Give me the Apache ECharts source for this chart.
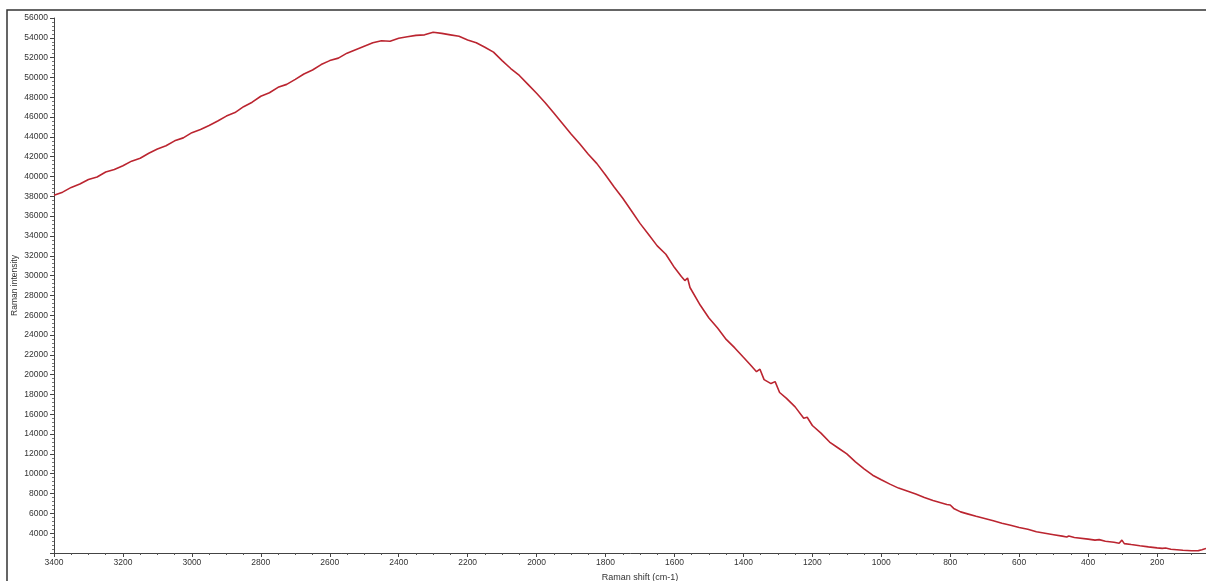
<!DOCTYPE html>
<html>
<head>
<meta charset="utf-8">
<script src="https://cdn.jsdelivr.net/npm/echarts@6/dist/echarts.min.js"></script>
<style>
  html, body { margin: 0; padding: 0; background: #fff; }
  #chart { width: 1206px; height: 581px; }
</style>
</head>
<body>
<div id="chart"></div>
<script>
// Raman spectrum (shift in cm-1, intensity in counts)
var shifts = [3400, 3375, 3350, 3325, 3300, 3275, 3250, 3225, 3200, 3175, 3150, 3125,
  3100, 3075, 3050, 3025, 3000, 2975, 2950, 2925, 2900, 2875, 2850, 2825, 2800, 2775,
  2750, 2725, 2700, 2675, 2650, 2625, 2600, 2575, 2550, 2525, 2500, 2475, 2450, 2425,
  2400, 2375, 2350, 2325, 2300, 2275, 2250, 2225, 2200, 2175, 2150, 2125, 2100, 2075,
  2050, 2025, 2000, 1975, 1950, 1925, 1900, 1875, 1850, 1825, 1800, 1775, 1750, 1725,
  1700, 1675, 1650, 1625, 1600, 1580, 1570, 1562, 1555, 1525, 1500, 1475, 1450, 1425,
  1400, 1380, 1362, 1352, 1340, 1320, 1308, 1295, 1275, 1250, 1225, 1215, 1200, 1175,
  1150, 1125, 1100, 1075, 1050, 1025, 1000, 975, 950, 925, 900, 875, 850, 825, 810,
  800, 790, 770, 750, 725, 700, 675, 650, 625, 600, 575, 550, 525, 500, 475, 462, 456,
  440, 400, 380, 368, 350, 325, 310, 302, 295, 275, 250, 225, 200, 185, 175, 160, 125,
  100, 80, 70, 58];
var intensity = [38100, 38420, 38900, 39250, 39700, 39950, 40450, 40700, 41080, 41550, 41850, 42350,
  42770, 43100, 43600, 43900, 44430, 44750, 45150, 45600, 46100, 46450, 47050, 47500, 48100, 48450,
  49000, 49300, 49800, 50350, 50750, 51300, 51700, 51950, 52450, 52800, 53150, 53500, 53700, 53650,
  53950, 54100, 54250, 54300, 54560, 54450, 54300, 54150, 53780, 53500, 53050, 52550, 51700, 50900,
  50200, 49300, 48400, 47450, 46400, 45350, 44300, 43300, 42250, 41300, 40150, 38950, 37800, 36550,
  35270, 34150, 33000, 32150, 30810, 29900, 29500, 29750, 28800, 27000, 25720, 24700, 23560, 22700,
  21750, 21000, 20300, 20550, 19500, 19100, 19300, 18200, 17600, 16750, 15600, 15700, 14870, 14100,
  13200, 12600, 12000, 11200, 10500, 9850, 9390, 8950, 8550, 8250, 7950, 7600, 7300, 7050, 6900,
  6850, 6500, 6150, 5950, 5700, 5480, 5250, 5000, 4800, 4580, 4400, 4150, 4000, 3850, 3700, 3620, 3720,
  3560, 3400, 3300, 3350, 3180, 3080, 2980, 3300, 2950, 2850, 2730, 2620, 2520, 2470, 2500, 2380, 2280,
  2230, 2240, 2330, 2460];

var yTicks = { min: 2000, max: 56000, step: 2000 };
var xTicks = { min: 0, max: 3400, step: 200 };

var points = shifts.map(function (s, i) { return [s, intensity[i]]; });

var chart = echarts.init(document.getElementById('chart'));
chart.setOption({
  backgroundColor: '#fff',
  animation: false,
  graphic: [{
    type: 'rect',
    shape: { x: 7, y: 10, width: 1300, height: 700 },
    style: { fill: 'none', stroke: '#333', lineWidth: 1.5 },
    silent: true
  }],
  grid: { left: 54, right: -20, top: 18, bottom: 28, containLabel: false, outerBoundsMode: 'none' },
  xAxis: {
    type: 'value',
    inverse: true,
    min: xTicks.min,
    max: xTicks.max,
    interval: xTicks.step,
    name: 'Raman shift (cm-1)',
    nameLocation: 'middle',
    nameGap: 20,
    nameMoveOverlap: false,
    nameTextStyle: { fontFamily: 'Liberation Sans', fontSize: 9, color: '#333' },
    axisLine: { onZero: false, lineStyle: { color: '#444', width: 1 } },
    axisTick: { length: 4, lineStyle: { color: '#444' } },
    minorTick: { show: true, splitNumber: 4, length: 2, lineStyle: { color: '#555' } },
    axisLabel: { fontFamily: 'Liberation Sans', fontSize: 8.5, color: '#333', margin: 5,
      formatter: function (v) { return String(v); } },
    splitLine: { show: false }
  },
  yAxis: {
    type: 'value',
    min: yTicks.min,
    max: yTicks.max,
    interval: yTicks.step,
    name: 'Raman intensity',
    nameLocation: 'middle',
    nameGap: 35,
    nameMoveOverlap: false,
    nameTextStyle: { fontFamily: 'Liberation Sans', fontSize: 8.5, color: '#333' },
    axisLine: { show: true, onZero: false, lineStyle: { color: '#444', width: 1 } },
    axisTick: { show: true, length: 4, lineStyle: { color: '#444' } },
    minorTick: { show: true, splitNumber: 5, length: 2, lineStyle: { color: '#777' } },
    axisLabel: { fontFamily: 'Liberation Sans', fontSize: 8.5, color: '#333', margin: 6, showMinLabel: false,
      formatter: function (v) { return String(v); } },
    splitLine: { show: false }
  },
  series: [{
    type: 'line',
    data: points,
    showSymbol: false,
    smooth: false,
    lineStyle: { color: '#bb2530', width: 1.6 }
  }]
});
</script>
</body>
</html>
